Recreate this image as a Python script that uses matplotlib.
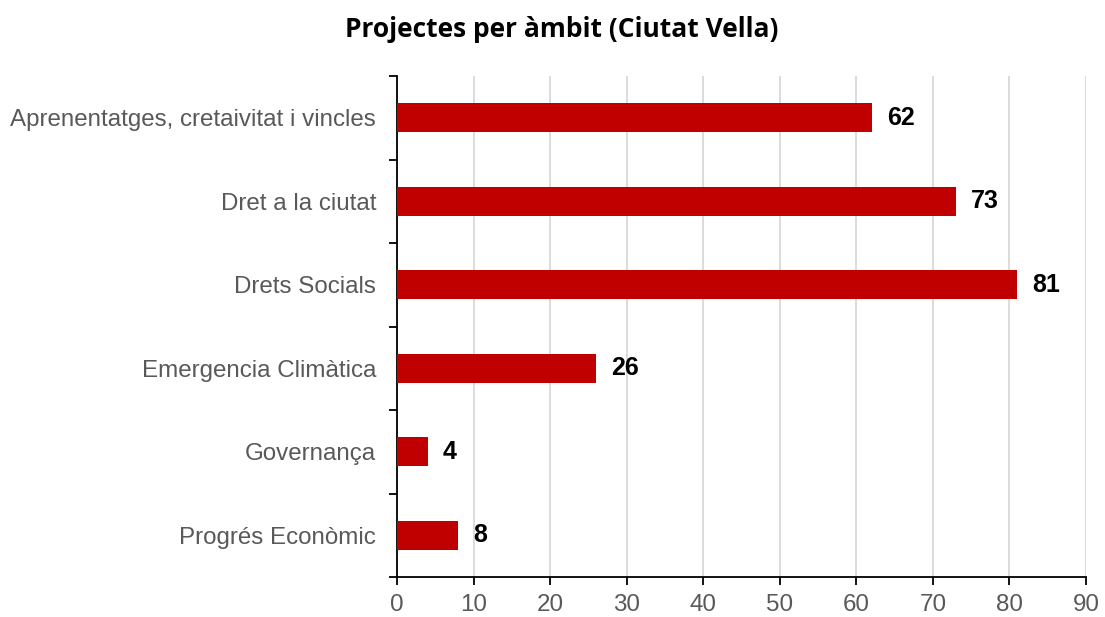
import matplotlib.pyplot as plt

categories = ['Aprenentatges, cretaivitat i vincles', 'Dret a la ciutat', 'Drets Socials',
              'Emergencia Climàtica', 'Governança', 'Progrés Econòmic']
values = [62, 73, 81, 26, 4, 8]
x_ticks = [0, 10, 20, 30, 40, 50, 60, 70, 80, 90]

fig = plt.figure(figsize=(11.05, 6.17), dpi=100)
ax = fig.add_axes([0.3593, 0.0648, 0.6235, 0.812])

pos = list(range(len(categories)))
ax.barh(pos, values, height=0.35, color='#C00000', zorder=3)
for p, v in zip(pos, values):
    ax.annotate(str(v), (v, p), xytext=(11, 0), textcoords='offset points',
                va='center', ha='left', fontsize=18, fontweight='bold',
                family='Liberation Sans', color='black')

ax.set_ylim(len(categories) - 0.5, -0.5)
ax.set_xlim(0, 90)
ax.set_xticks(x_ticks)
ax.set_yticks(pos)
ax.set_yticklabels(categories)
ax.set_yticks([p - 0.5 for p in range(len(categories) + 1)], minor=True)
ax.tick_params(axis='y', which='major', length=0, pad=15)
ax.tick_params(axis='y', which='minor', length=6, width=1.3, color='black')
ax.tick_params(axis='x', length=6, width=1.3, color='black', pad=6)
for lab in ax.get_yticklabels() + ax.get_xticklabels():
    lab.set_family('Liberation Sans')
    lab.set_fontsize(17.4)
    lab.set_color('#595959')

ax.grid(axis='x', color='#d9d9d9', linewidth=1.3, zorder=0)
ax.spines['top'].set_visible(False)
ax.spines['right'].set_visible(False)
ax.spines['left'].set_linewidth(1.3)
ax.spines['bottom'].set_linewidth(1.3)

fig.text(0.508, 0.952, 'Projectes per àmbit (Ciutat Vella)', ha='center', va='center',
         fontsize=19, fontweight='bold', family='Open Sans')

fig.savefig('out.png', dpi=100)
